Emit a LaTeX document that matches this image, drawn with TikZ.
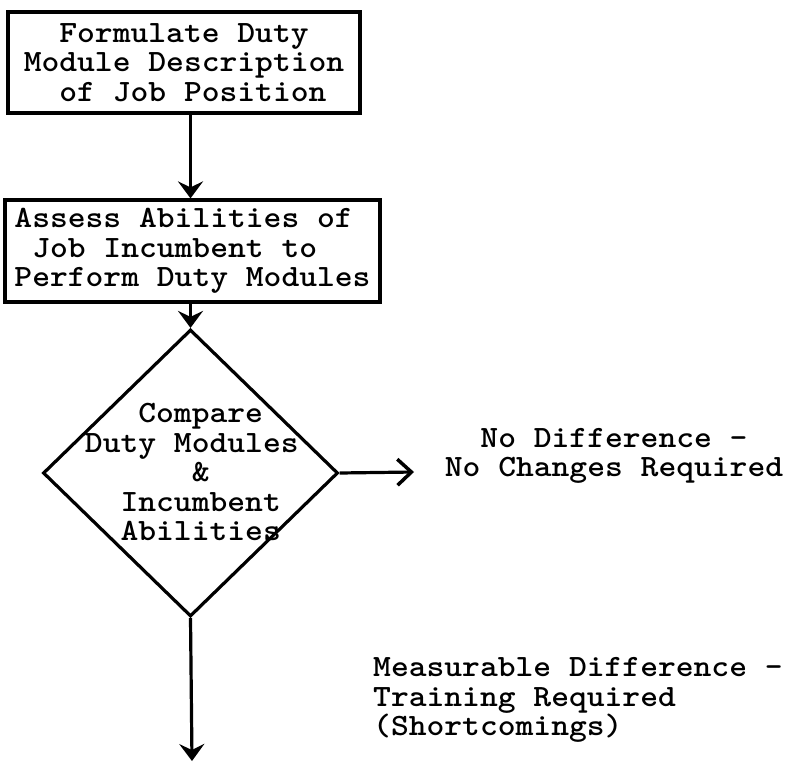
\documentclass[tikz,border=0pt]{standalone}
\usepackage{fontspec}
\newfontfamily\typewriter{lmmonolt10-bold}[Extension=.otf,FakeStretch=1.094]
\usetikzlibrary{shapes.geometric,arrows.meta}
\begin{document}
\begin{tikzpicture}[x=1pt,y=-1pt,
  txt/.style={font=\typewriter\fontsize{31}{29.5}\selectfont,inner sep=0pt},
  stepbox/.style={txt,draw,line width=3.2pt,align=left},
  decision/.style={diamond,draw,line width=3.2pt,inner sep=0pt},
  flow/.style={line width=3.2pt,-{Stealth[length=17pt,width=25pt,inset=6pt]}},
  barb/.style={line width=3.2pt,-{Straight Barb[length=14pt,width=26pt,line width=3.5pt]}}]
\useasboundingbox (0,0) rectangle (791,762);

% process boxes
\node[stepbox,minimum width=352pt,minimum height=101pt] (box1) at (184,62.5)
  {\phantom{xx}Formulate Duty\\Module Description\\\phantom{xx}of Job Position};
\node[stepbox,minimum width=375pt,minimum height=102pt] (box2) at (192.5,251)
  {Assess Abilities of\\\phantom{x}Job Incumbent to\\Perform Duty Modules};

% decision
\node[decision,minimum width=295pt,minimum height=287pt] (dia) at (190.5,473) {};
\node[txt,align=left] (cmp) at (191.8,472)
  {\phantom{xxx}Compare\\Duty Modules\\\phantom{xxxxxx}\&\\\phantom{xx}Incumbent\\\phantom{xx}Abilities};

% outcomes
\coordinate (nd) at (414,472);
\coordinate (out) at (192,761);
\node[txt,align=center] (nodiff) at (614,456)
  {No Difference -\\No Changes Required};
\node[txt,align=left,anchor=west] (meas) at (373,700)
  {Measurable Difference -\\Training Required\\(Shortcomings)};

% connectors
\draw[flow] (box1.south -| dia.north) -- (box2.north -| dia.north);
\draw[flow] (box2.south -| dia.north) -- (dia.north);
\draw[barb] (dia.east) -- (nd);
\draw[flow] (dia.south) -- (out);
\end{tikzpicture}
\end{document}
